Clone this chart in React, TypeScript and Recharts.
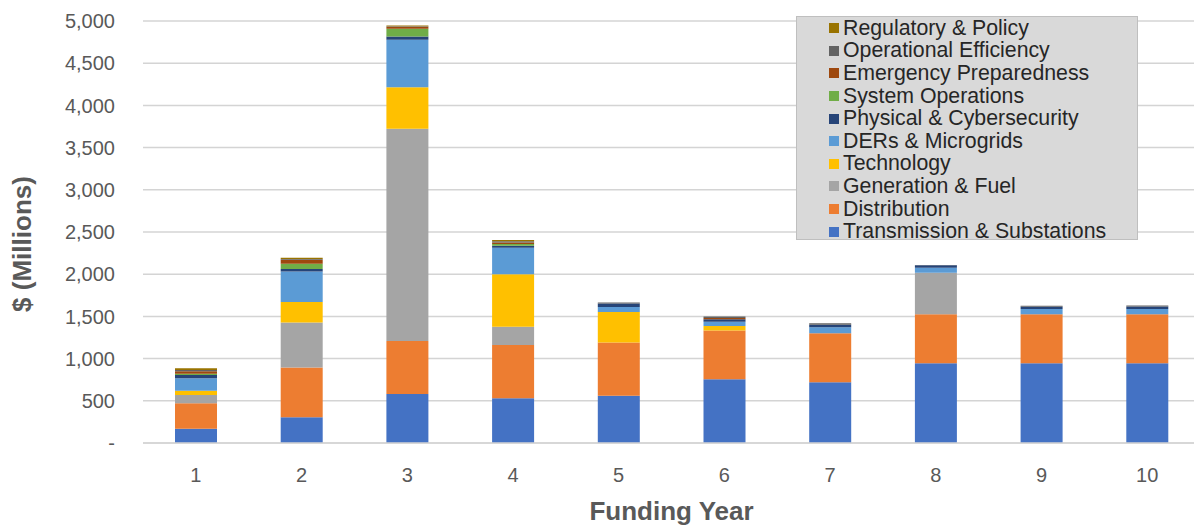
import React from 'react';
import { BarChart, Bar, XAxis, YAxis, CartesianGrid, Legend } from 'recharts';

const years = ['1', '2', '3', '4', '5', '6', '7', '8', '9', '10'];

// values in $ millions
const transmission = [170, 305, 580, 530, 560, 755, 720, 945, 945, 945];
const distribution = [300, 590, 630, 630, 630, 577, 580, 580, 580, 580];
const generation = [100, 533, 2512, 217, 0, 0, 0, 493, 0, 0];
const technology = [50, 242, 494, 621, 363, 55, 0, 0, 0, 0];
const ders = [146, 363, 561, 315, 59, 51, 71, 59, 63, 63];
const cyber = [40, 28, 39, 24, 40, 29, 31, 28, 27, 30];
const sysOps = [15, 63, 91, 20, 0, 0, 0, 0, 0, 0];
const emergency = [30, 47, 24, 20, 0, 15, 0, 0, 0, 0];
const operational = [15, 10, 6, 12, 12, 16, 16, 5, 10, 10];
const regulatory = [20, 15, 10, 15, 0, 0, 0, 0, 0, 0];

const yTicks = [0, 500, 1000, 1500, 2000, 2500, 3000, 3500, 4000, 4500, 5000];

const series = [
  { key: 'transmission', name: 'Transmission & Substations', color: '#4472C4', values: transmission },
  { key: 'distribution', name: 'Distribution', color: '#ED7D31', values: distribution },
  { key: 'generation', name: 'Generation & Fuel', color: '#A5A5A5', values: generation },
  { key: 'technology', name: 'Technology', color: '#FFC000', values: technology },
  { key: 'ders', name: 'DERs & Microgrids', color: '#5B9BD5', values: ders },
  { key: 'cyber', name: 'Physical & Cybersecurity', color: '#264478', values: cyber },
  { key: 'sysOps', name: 'System Operations', color: '#70AD47', values: sysOps },
  { key: 'emergency', name: 'Emergency Preparedness', color: '#9E480E', values: emergency },
  { key: 'operational', name: 'Operational Efficiency', color: '#636363', values: operational },
  { key: 'regulatory', name: 'Regulatory & Policy', color: '#997300', values: regulatory },
];

const data = years.map((year, i) => {
  const row: Record<string, string | number> = { year };
  series.forEach((s) => {
    row[s.key] = s.values[i];
  });
  return row;
});

const FONT = '"Liberation Sans", Arial, sans-serif';
const GREY = '#595959';

function LegendBox() {
  // legend lists the stack top-down, so reverse the series order
  const items = [...series].reverse();
  return (
    <div
      style={{
        background: '#d9d9d9',
        border: '1px solid #bfbfbf',
        width: 342,
        height: 224,
        boxSizing: 'border-box',
        padding: '0 0 0 32px',
        fontFamily: FONT,
        fontSize: 21.3,
        color: '#262626',
      }}
    >
      {items.map((s) => (
        <div key={s.key} style={{ display: 'flex', alignItems: 'center', height: 22.6, whiteSpace: 'nowrap' }}>
          <span style={{ width: 10, height: 10, background: s.color, marginRight: 4, flexShrink: 0 }} />
          <span>{s.name}</span>
        </div>
      ))}
    </div>
  );
}

function formatTick(v: number) {
  return v === 0 ? '-' : v.toLocaleString('en-US');
}

export default function App() {
  return (
    <div style={{ position: 'absolute', left: 0, top: 0, width: 1194, height: 525, overflow: 'hidden', background: '#fff' }}>
      <BarChart
        width={1202}
        height={525}
        data={data}
        margin={{ top: 21, right: 2, left: 0, bottom: 0 }}
        barSize={42}
      >
        <CartesianGrid vertical={false} stroke="#d4d4d4" strokeWidth={1.5} />
        <XAxis
          dataKey="year"
          height={82}
          tickLine={false}
          tickSize={0}
          tickMargin={25}
          axisLine={{ stroke: '#d4d4d4', strokeWidth: 1.5 }}
          tick={{ fill: GREY, fontSize: 20, fontFamily: FONT }}
          label={{
            value: 'Funding Year',
            position: 'insideBottom',
            offset: 5,
            style: { fill: GREY, fontSize: 26, fontWeight: 'bold', fontFamily: FONT },
          }}
        />
        <YAxis
          width={143}
          domain={[0, 5000]}
          ticks={yTicks}
          interval={0}
          tickFormatter={formatTick}
          tickLine={false}
          axisLine={false}
          tickSize={0}
          tickMargin={28}
          tick={{ fill: GREY, fontSize: 20, fontFamily: FONT }}
          label={{
            content: (props: any) => {
              const vb = props.viewBox || { x: 0, y: 21, width: 143, height: 422 };
              const cx = vb.x + 22;
              const cy = vb.y + vb.height / 2 + 12;
              return (
                <text
                  x={cx}
                  y={cy}
                  transform={`rotate(-90 ${cx} ${cy})`}
                  textAnchor="middle"
                  dominantBaseline="central"
                  fill={GREY}
                  fontSize={26}
                  fontWeight="bold"
                  fontFamily={FONT}
                >
                  $ (Millions)
                </text>
              );
            },
          }}
        />
        <Legend
          layout="vertical"
          align="center"
          verticalAlign="middle"
          content={() => <LegendBox />}
          wrapperStyle={{ left: 796, top: 16, width: 342, height: 224 }}
        />
        {series.map((s) => (
          <Bar key={s.key} dataKey={s.key} name={s.name} stackId="a" fill={s.color} isAnimationActive={false} />
        ))}
      </BarChart>
    </div>
  );
}
